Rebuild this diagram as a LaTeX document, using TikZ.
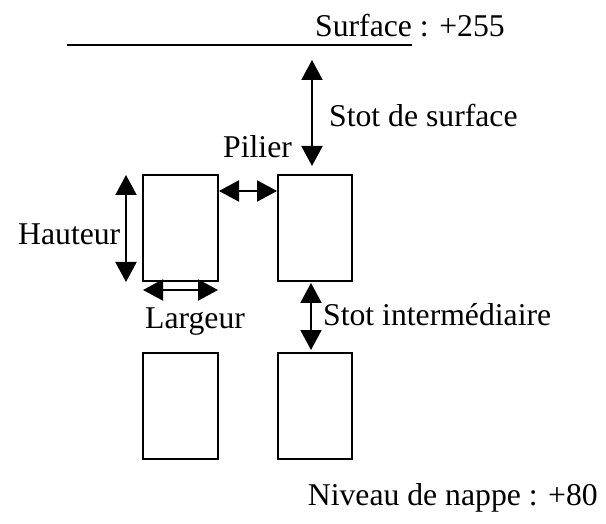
\documentclass[tikz,border=0pt]{standalone}
\usepackage{fontspec}
\setmainfont{Liberation Serif}
\usetikzlibrary{arrows.meta}
\begin{document}
\begin{tikzpicture}[x=1pt,y=-1pt,
  pillar/.style={draw,line width=2.6pt,inner sep=0pt,outer sep=0pt,anchor=north west,minimum width=#1,minimum height=106pt},
  lbl/.style={inner sep=0pt,anchor=base west,font=\fontsize{31.7}{38}\selectfont},
  dimarrow/.style={line width=2pt,{Triangle[length=20pt,width=21pt]}-{Triangle[length=20pt,width=21pt]}}]
\useasboundingbox (0,0) rectangle (606,524);
% surface line
\coordinate (l1) at (67,45);
\coordinate (l2) at (412,45);
\draw[line width=2pt] (l1) -- (l2);
\node[lbl] (surf) at (315,37) {Surface : +255};
% pillars
\node[pillar=75pt] (p1) at (143,175) {};
\node[pillar=74pt] (p2) at (278,175) {};
\node[pillar=75pt] (p3) at (143,353) {};
\node[pillar=74pt] (p4) at (278,353) {};
% dimension arrows
\coordinate (s1) at (312,60);
\coordinate (s2) at (312,166);
\draw[dimarrow] (s1) -- (s2);
\coordinate (i1) at (311,283);
\coordinate (i2) at (311,350);
\draw[dimarrow] (i1) -- (i2);
\coordinate (w1) at (219,191);
\coordinate (w2) at (277,191);
\draw[dimarrow] (w1) -- (w2);
\coordinate (h1) at (126,175);
\coordinate (h2) at (126,282);
\draw[dimarrow] (h1) -- (h2);
\coordinate (g1) at (143,290);
\coordinate (g2) at (218,290);
\draw[dimarrow] (g1) -- (g2);
% labels
\node[lbl] (tss) at (329,127) {Stot de surface};
\node[lbl] (tpil) at (223,158) {Pilier};
\node[lbl] (thaut) at (18,245) {Hauteur};
\node[lbl] (tlarg) at (145,328) {Largeur};
\node[lbl] (tsi) at (323,325) {Stot intermédiaire};
\node[lbl,anchor=base east] (tnap) at (598,505) {Niveau de nappe : +80};
\end{tikzpicture}
\end{document}
